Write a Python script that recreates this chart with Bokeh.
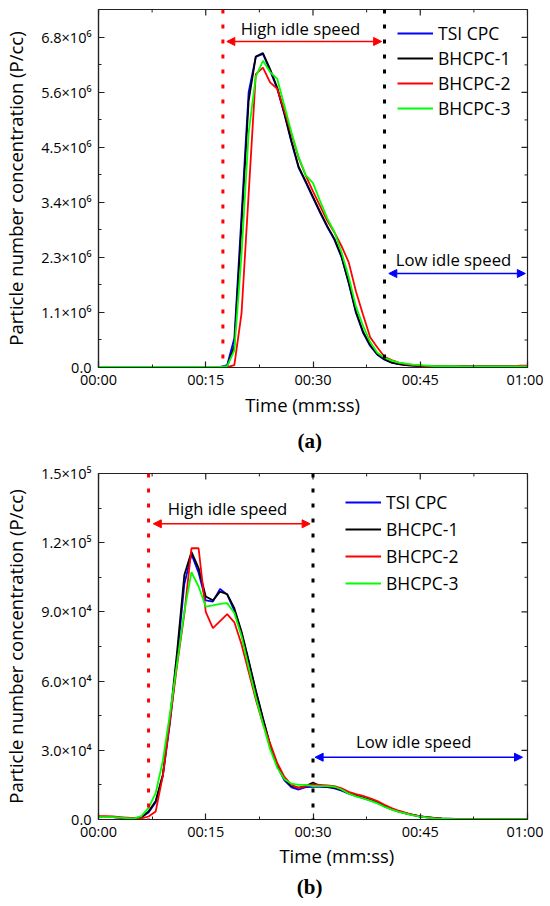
import math
from bokeh.plotting import figure
from bokeh.models import (Range1d, FixedTicker, Label, Arrow, NormalHead,
                          Legend, LegendItem, Span)
from bokeh.layouts import column
from bokeh.embed import file_html
from bokeh.resources import INLINE

# ---------------- data ----------------
time_s = list(range(61))

# panel (a): values in units of 1e6 P/cc
a_tsi = [0.01]*17 + [0.01, 0.05, 0.6, 3.1, 5.63, 6.35, 6.41, 6.07, 5.7, 5.18,
         4.6, 4.08, 3.78, 3.47, 3.16, 2.87, 2.61, 2.25, 1.72, 1.12, 0.71, 0.44,
         0.26, 0.16, 0.1, 0.07, 0.05, 0.04, 0.03, 0.025] + [0.02]*14
a_b1 = [0.01]*17 + [0.01, 0.02, 0.45, 2.9, 5.45, 6.36, 6.43, 6.1, 5.72, 5.2,
        4.62, 4.1, 3.8, 3.49, 3.18, 2.89, 2.63, 2.27, 1.74, 1.15, 0.73, 0.46,
        0.27, 0.17, 0.1, 0.07, 0.05, 0.04, 0.03, 0.025] + [0.02]*14
a_b2 = [0.01]*17 + [0.01, 0.01, 0.05, 1.1, 3.55, 6.0, 6.13, 5.83, 5.7, 5.25,
        4.77, 4.28, 3.92, 3.6, 3.3, 3.0, 2.76, 2.48, 2.15, 1.56, 1.08, 0.62,
        0.41, 0.22, 0.15, 0.1, 0.07, 0.05, 0.04, 0.03] + [0.02]*11 + [0.03, 0.04, 0.04]
a_b3 = [0.01]*17 + [0.01, 0.03, 0.35, 2.3, 4.8, 5.95, 6.27, 6.04, 5.9, 5.35,
        4.8, 4.3, 3.93, 3.77, 3.4, 3.05, 2.77, 2.35, 1.85, 1.25, 0.85, 0.52,
        0.3, 0.2, 0.14, 0.1, 0.08, 0.06, 0.05, 0.04] + [0.03]*4 + [0.02]*10

# panel (b): values in units of 1e4 P/cc
b_tsi = [0.12, 0.1, 0.1, 0.08, 0.06, 0.05, 0.1, 0.3, 0.75, 1.9, 4.2, 7.0, 10.2,
         11.5, 10.7, 9.5, 9.45, 10.0, 9.75, 9.05, 8.1, 6.85, 5.55, 4.35, 3.2,
         2.3, 1.7, 1.39, 1.3, 1.4, 1.42, 1.42, 1.4, 1.35, 1.25, 1.12, 1.02,
         0.93, 0.83, 0.72, 0.57, 0.44, 0.34, 0.26, 0.19, 0.13, 0.09, 0.06,
         0.04, 0.03] + [0.02]*11
b_b1 = [0.1, 0.1, 0.1, 0.08, 0.06, 0.05, 0.1, 0.35, 0.8, 1.95, 4.4, 7.3, 10.6,
        11.6, 10.9, 9.67, 9.5, 9.88, 9.77, 9.16, 8.15, 6.9, 5.6, 4.4, 3.25,
        2.35, 1.75, 1.45, 1.38, 1.45, 1.6, 1.45, 1.42, 1.38, 1.28, 1.14, 1.04,
        0.95, 0.85, 0.74, 0.58, 0.45, 0.35, 0.27, 0.2, 0.14, 0.1, 0.07, 0.05,
        0.04] + [0.03]*11
b_b2 = [0.15, 0.15, 0.13, 0.1, 0.08, 0.06, 0.05, 0.13, 0.35, 1.9, 4.3, 6.7, 8.9,
        11.76, 11.76, 9.0, 8.3, 8.6, 8.9, 8.55, 7.6, 6.4, 5.2, 4.15, 3.3, 2.45,
        1.85, 1.5, 1.36, 1.45, 1.52, 1.5, 1.48, 1.45, 1.35, 1.2, 1.1, 1.02,
        0.92, 0.8, 0.64, 0.5, 0.38, 0.29, 0.2, 0.14, 0.09, 0.06, 0.04,
        0.03] + [0.02]*11
b_b3 = [0.1, 0.1, 0.1, 0.08, 0.06, 0.05, 0.15, 0.5, 1.15, 2.55, 4.6, 6.8, 9.0,
        10.72, 10.1, 9.23, 9.28, 9.35, 9.38, 8.95, 7.95, 6.6, 5.3, 4.15, 3.05,
        2.25, 1.75, 1.55, 1.5, 1.5, 1.45, 1.45, 1.45, 1.42, 1.3, 1.12, 1.0,
        0.92, 0.82, 0.7, 0.55, 0.43, 0.33, 0.25, 0.18, 0.12, 0.08, 0.05, 0.04,
        0.03] + [0.02]*11

series_names = ["TSI CPC", "BHCPC-1", "BHCPC-2", "BHCPC-3"]
series_colors = ["#0000ff", "#000000", "#ff0000", "#00ff00"]

x_ticks = [0, 15, 30, 45, 60]
x_minor = [7.5, 22.5, 37.5, 52.5]
x_labels = ["00:00", "00:15", "00:30", "00:45", "01:00"]

a_yticks = [0, 1125000, 2250000, 3375000, 4500000, 5625000, 6750000]
a_yminor = [562500, 1687500, 2812500, 3937500, 5062500, 6187500]
a_ylabels = ["0.0", "1.1\u00d710\u2076", "2.3\u00d710\u2076", "3.4\u00d710\u2076",
             "4.5\u00d710\u2076", "5.6\u00d710\u2076", "6.8\u00d710\u2076"]
a_ymax = 7.32e6

b_yticks = [0, 30000, 60000, 90000, 120000, 150000]
b_yminor = [15000, 45000, 75000, 105000, 135000]
b_ylabels = ["0.0", "3.0\u00d710\u2074", "6.0\u00d710\u2074", "9.0\u00d710\u2074",
             "1.2\u00d710\u2075", "1.5\u00d710\u2075"]
b_ymax = 1.5e5

x_title = "Time (mm:ss)"
y_title = "Particle number concentration (P/cc)"
high_text = "High idle speed"
low_text = "Low idle speed"

FONT = "Open Sans"
AX = "#222222"
FIG_W = 534


def style_axis(ax, ticks, minor, labels):
    ax.ticker = FixedTicker(ticks=ticks, minor_ticks=minor)
    ax.major_tick_in = 6
    ax.major_tick_out = 0
    ax.minor_tick_in = 3
    ax.minor_tick_out = 0
    ax.axis_line_color = AX
    ax.axis_line_width = 1.2
    ax.major_tick_line_color = AX
    ax.minor_tick_line_color = AX
    ax.major_tick_line_width = 1.2
    ax.minor_tick_line_width = 1.0
    ax.major_label_overrides = dict(zip(ticks, labels))
    ax.major_label_text_font = FONT
    ax.major_label_text_font_size = "14.5px"
    ax.major_label_text_color = "#000000"


def make_panel(vals, scale, ymax, yticks, yminor, ylabels, frame_h, top_b, bot_b,
               red_t, black_t, high_arrow, high_lbl, low_arrow, low_lbl,
               legend_loc, legend_spacing):
    p = figure(frame_width=429, frame_height=frame_h,
               x_range=Range1d(0, 60), y_range=Range1d(0, ymax),
               output_backend="svg", toolbar_location=None,
               min_border_left=89, min_border_right=FIG_W - 89 - 429,
               min_border_top=top_b, min_border_bottom=bot_b)
    p.xgrid.visible = False
    p.ygrid.visible = False
    p.outline_line_color = AX
    p.outline_line_width = 1.2

    style_axis(p.xaxis[0], x_ticks, x_minor, x_labels)
    p.xaxis[0].major_label_standoff = 2
    style_axis(p.yaxis[0], yticks, yminor, ylabels)
    p.yaxis[0].major_label_standoff = 7
    p.yaxis[0].axis_label = y_title
    p.yaxis[0].axis_label_text_font = FONT
    p.yaxis[0].axis_label_text_font_size = "18.5px"
    p.yaxis[0].axis_label_text_font_style = "normal"
    p.yaxis[0].axis_label_text_color = "#000000"
    p.yaxis[0].axis_label_standoff = 10

    # mirrored inward ticks on the top and right frame edges
    p.ray(x=x_ticks, y=[ymax]*len(x_ticks), length=6, angle=-math.pi/2,
          length_units="screen", line_color=AX, line_width=1.2)
    p.ray(x=x_minor, y=[ymax]*len(x_minor), length=3, angle=-math.pi/2,
          length_units="screen", line_color=AX, line_width=1.0)
    p.ray(x=[60]*len(yticks), y=yticks, length=6, angle=math.pi,
          length_units="screen", line_color=AX, line_width=1.2)
    p.ray(x=[60]*len(yminor), y=yminor, length=3, angle=math.pi,
          length_units="screen", line_color=AX, line_width=1.0)

    items = []
    for v, name, col in zip(vals, series_names, series_colors):
        r = p.line(time_s, [q * scale for q in v], line_color=col, line_width=1.8)
        items.append(LegendItem(label=name, renderers=[r]))

    p.add_layout(Span(location=red_t, dimension="height", line_color="#ff0000",
                      line_dash="4 11", line_width=3))
    p.add_layout(Span(location=black_t, dimension="height", line_color="#000000",
                      line_dash="4 11", line_width=3))

    for (x0, x1, yy), col in ((high_arrow, "#ff0000"), (low_arrow, "#0000ff")):
        p.add_layout(Arrow(x_start=x0, y_start=yy, x_end=x1, y_end=yy,
                           line_color=col, line_width=1.5,
                           start=NormalHead(size=8, fill_color=col, line_color=col, line_width=1),
                           end=NormalHead(size=8, fill_color=col, line_color=col, line_width=1)))
    for (tx, ty), txt in ((high_lbl, high_text), (low_lbl, low_text)):
        p.add_layout(Label(x=tx, y=ty, text=txt, text_align="center",
                           text_baseline="middle", text_font=FONT,
                           text_font_size="16.7px", text_color="#000000"))

    leg = Legend(items=items, location=legend_loc, padding=0, margin=0,
                 border_line_alpha=0, background_fill_alpha=0,
                 glyph_width=36, glyph_height=20, label_height=20,
                 label_standoff=5, spacing=legend_spacing,
                 label_text_font=FONT, label_text_font_size="17.5px",
                 label_text_color="#000000")
    p.add_layout(leg)
    return p


def make_strip(height, xlab_xy, cap_xy, caption):
    """Text strip below a panel: axis title and panel caption (pixel coords, y from top)."""
    s = figure(width=FIG_W, height=height, x_range=Range1d(0, FIG_W),
               y_range=Range1d(height, 0), output_backend="svg",
               toolbar_location=None, x_axis_type=None, y_axis_type=None,
               min_border=0, outline_line_color=None)
    s.xgrid.visible = False
    s.ygrid.visible = False
    s.add_layout(Label(x=xlab_xy[0], y=xlab_xy[1], text=x_title,
                       text_align="center", text_baseline="middle",
                       text_font=FONT, text_font_size="18.5px", text_color="#000000"))
    s.add_layout(Label(x=cap_xy[0], y=cap_xy[1], text=caption,
                       text_align="center", text_baseline="middle",
                       text_font="Liberation Serif", text_font_style="bold",
                       text_font_size="21px", text_color="#000000"))
    return s


pa = make_panel([a_tsi, a_b1, a_b2, a_b3], 1e6, a_ymax, a_yticks, a_yminor, a_ylabels,
                358, 9, 25, 17.4, 40.0,
                (17.95, 39.6, 6.666e6), (28.25, 6.93e6),
                (40.6, 59.7, 1.922e6), (49.65, 2.208e6),
                (299, 247), 1)
sa = make_strip(64, (259.5, 12), (268.5, 48), "(a)")
pb = make_panel([b_tsi, b_b1, b_b2, b_b3], 1e4, b_ymax, b_yticks, b_yminor, b_ylabels,
                346, 17, 25, 7.0, 30.0,
                (7.67, 29.6, 1.282e5), (18.04, 1.348e5),
                (30.3, 59.3, 2.7e4), (44.1, 3.38e4),
                (247, 224), 3)
sb = make_strip(54, (303, 11), (268.5, 42), "(b)")

layout = column(pa, sa, pb, sb, spacing=0)
open("out.html", "w").write(file_html(layout, INLINE))
